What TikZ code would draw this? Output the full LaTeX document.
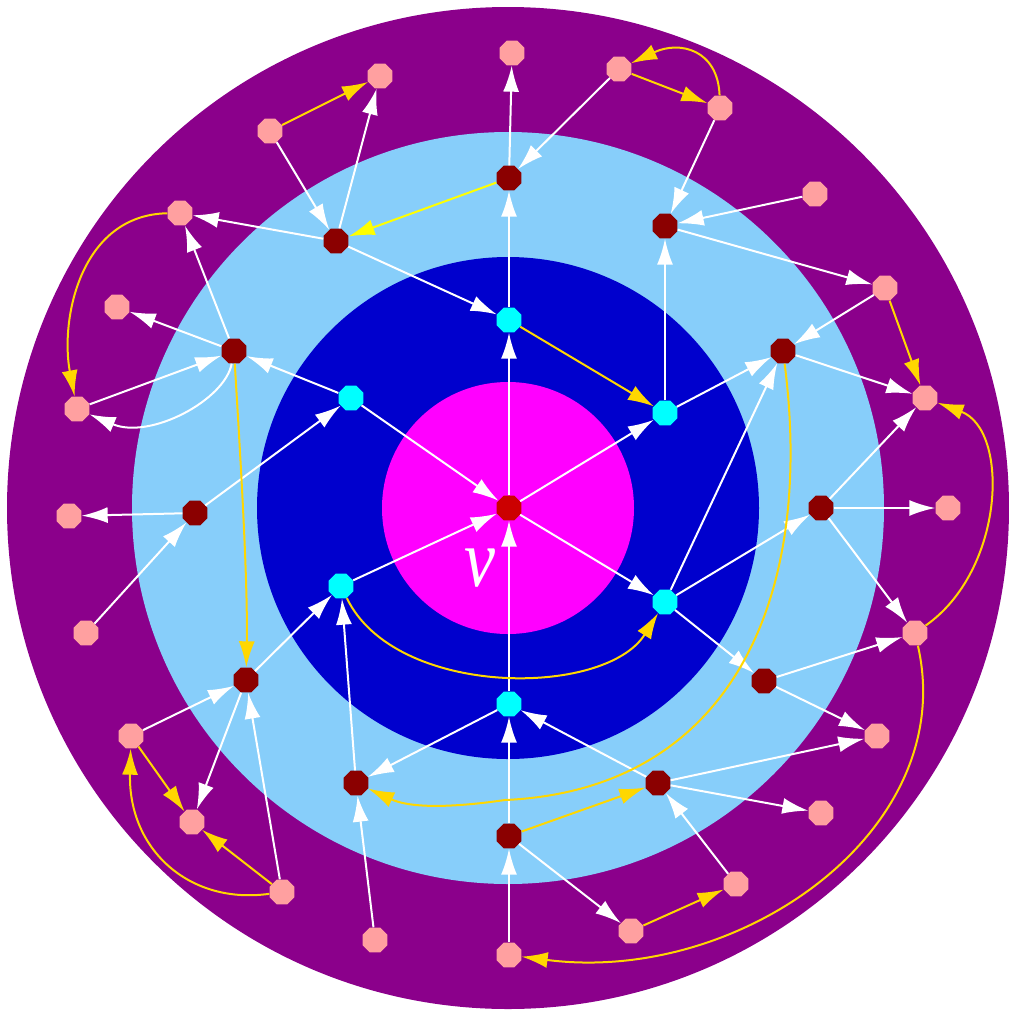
\documentclass[tikz,border=0pt]{standalone}
\usepackage{fontspec}
\newfontfamily\labelfont{Liberation Serif}
\usepackage{tikz}
\usetikzlibrary{arrows.meta,shapes.geometric}

\definecolor{ringfour}{RGB}{139,0,139}
\definecolor{ringthree}{RGB}{135,206,250}
\definecolor{ringtwo}{RGB}{0,0,205}
\definecolor{ringone}{RGB}{255,0,255}
\definecolor{cyanc}{RGB}{0,255,255}
\definecolor{pinkc}{RGB}{255,160,160}
\definecolor{darkredc}{RGB}{139,0,0}
\definecolor{rootc}{RGB}{204,0,0}
\definecolor{goldc}{RGB}{255,215,0}
\definecolor{yellowc}{RGB}{255,255,0}

\begin{document}
\begin{tikzpicture}[x=1pt,y=-1pt,
  dot/.style={regular polygon,regular polygon sides=8,minimum size=27pt,inner sep=0pt},
  cyandot/.style={dot,fill=cyanc},
  reddot/.style={dot,fill=darkredc},
  pinkdot/.style={dot,fill=pinkc},
  wline/.style={draw=white,line width=2pt,-{Latex[length=26pt,width=16pt]}},
  gline/.style={draw=goldc,line width=2pt,-{Latex[length=26pt,width=16pt]}}]
  \useasboundingbox (0,0) rectangle (1009,1013);
  % rings
  \coordinate (o) at (508,508);
  \fill[ringfour] (o) circle (501pt);
  \fill[ringthree] (o) circle (376pt);
  \fill[ringtwo] (o) circle (251pt);
  \fill[ringone] (o) circle (126pt);
  \node[text=white,inner sep=0pt,font=\labelfont\itshape\fontsize{82}{82}\selectfont,xscale=0.85] (vlabel) at (480,568) {v};
  % vertices
  \node[dot,fill=rootc] (v) at (509,508) {};
  \foreach \n/\x/\y in {c1/509/320, c2/351/398, c3/665/413, c4/341/586, c5/665/602, c6/509/704}
    \node[cyandot] (\n) at (\x,\y) {};
  \foreach \n/\x/\y in {d1/509/178, d2/336/241, d3/665/226, d4/234/351, d5/783/351, d6/195/513,
      d7/821/508, d8/246/680, d9/764/681, d10/356/783, d11/658/783, d12/509/836}
    \node[reddot] (\n) at (\x,\y) {};
  \foreach \n/\x/\y in {p1/512/53, p2/619/69, p3/380/76, p4/720/108, p5/270/131, p6/815/194,
      p7/180/213, p8/885/288, p9/117/307, p10/925/398, p11/77/409, p12/948/508,
      p13/69/516, p14/86/633, p15/915/633, p16/131/736, p17/877/736, p18/821/813,
      p19/192/822, p20/736/884, p21/282/892, p22/631/931, p23/375/940, p24/509/955}
    \node[pinkdot] (\n) at (\x,\y) {};
  % white arcs
  \foreach \a/\b in {v/c1, c1/d1, d1/p1, v/c3, c2/v, c4/v, v/c5, c6/v, d12/c6, p24/d12,
      c2/d4, d6/c2, d2/c1, c3/d3, c3/d5, c5/d5, c5/d7, c5/d9, d11/c6, c6/d10, d8/c4, d10/c4, p23/d10,
      p2/d1, p5/d2, d2/p3, d2/p7, d4/p7, d4/p9, p11/d4, d6/p13, p14/d6, p16/d8, d8/p19, p21/d8,
      d11/p17, d11/p18, p20/d11, d12/p22, d9/p15, d9/p17, d7/p15, d7/p12, d7/p10, d5/p10,
      p8/d5, d3/p8, p6/d3, p4/d3}
    \draw[wline] (\a) -- (\b);
  \draw[wline] (d4) .. controls (225,400) and (150,440) .. (p11);
  % gold arcs
  \foreach \a/\b in {c1/c3, p5/p3, p2/p4, p8/p10, p16/p19, p21/p19, d12/d11, p22/p20}
    \draw[gline] (\a) -- (\b);
  \draw[gline,draw=yellowc] (d1) -- (d2);
  \draw[gline] (c4) .. controls (395,698) and (605,698) .. (c5);
  \draw[gline] (d5) .. controls (815,600) and (730,790) .. (505,800)
    .. controls (450,808) and (410,808) .. (d10);
  \draw[gline] (p15) .. controls (960,830) and (740,985) .. (p24);
  \draw[gline] (p15) .. controls (1005,570) and (1010,430) .. (p10);
  \draw[gline] (p7) .. controls (80,215) and (60,320) .. (p11);
  \draw[gline] (d4) .. controls (240,450) and (248,580) .. (d8);
  \draw[gline] (p21) .. controls (190,905) and (128,850) .. (p16);
  \draw[gline] (p4) .. controls (718,50) and (680,40) .. (p2);
\end{tikzpicture}
\end{document}
